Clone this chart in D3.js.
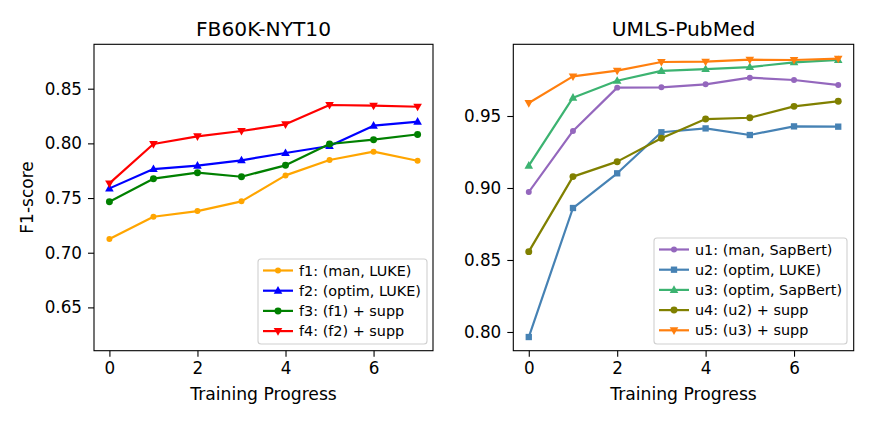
<!DOCTYPE html>
<html>
<head>
<meta charset="utf-8">
<script src="https://cdn.jsdelivr.net/npm/d3@7"></script>
<style>
  html, body { margin: 0; padding: 0; background: #fff; }
  svg { display: block; font-family: "DejaVu Sans", sans-serif; }
</style>
</head>
<body>
<svg id="chart" width="872" height="424"></svg>
<script>
// ——— données
const steps = [0, 1, 2, 3, 4, 5, 6, 7];
const xTicks = [0, 2, 4, 6];

// FB60K-NYT10
const f1 = [0.7125, 0.7329, 0.7381, 0.7470, 0.7707, 0.7848, 0.7924, 0.7841];
const f2 = [0.7588, 0.7765, 0.7796, 0.7845, 0.7912, 0.7976, 0.8162, 0.8198];
const f3 = [0.7466, 0.7677, 0.7732, 0.7695, 0.7799, 0.7994, 0.8034, 0.8082];
const f4 = [0.7634, 0.7994, 0.8064, 0.8113, 0.8174, 0.8351, 0.8345, 0.8335];
const leftTicks = [0.65, 0.70, 0.75, 0.80, 0.85];

// UMLS-PubMed
const u1 = [0.8972, 0.9396, 0.9697, 0.9699, 0.9720, 0.9766, 0.9750, 0.9715];
const u2 = [0.7965, 0.8861, 0.9102, 0.9387, 0.9414, 0.9368, 0.9428, 0.9426];
const u3 = [0.9155, 0.9627, 0.9745, 0.9813, 0.9826, 0.9840, 0.9873, 0.9889];
const u4 = [0.8558, 0.9079, 0.9183, 0.9345, 0.9479, 0.9488, 0.9567, 0.9602];
const u5 = [0.9590, 0.9775, 0.9815, 0.9875, 0.9877, 0.9891, 0.9889, 0.9898];
const rightTicks = [0.80, 0.85, 0.90, 0.95];

const panels = [
  {
    title: "FB60K-NYT10", ylabel: "F1-score",
    left: 94, right: 433, yDomain: [0.6104, 0.8906], yTicks: leftTicks,
    legend: { x: 258, y: 259, w: 169, h: 85 },
    series: [
      { name: "f1: (man, LUKE)",    values: f1, color: "orange",  marker: "point" },
      { name: "f2: (optim, LUKE)",  values: f2, color: "blue",    marker: "up" },
      { name: "f3: (f1) + supp",    values: f3, color: "green",   marker: "circle" },
      { name: "f4: (f2) + supp",    values: f4, color: "red",     marker: "down" }
    ]
  },
  {
    title: "UMLS-PubMed", ylabel: null,
    left: 513.3, right: 853.7, yDomain: [0.787, 0.9998], yTicks: rightTicks,
    legend: { x: 654, y: 238, w: 193, h: 106 },
    series: [
      { name: "u1: (man, SapBert)",   values: u1, color: "#9467bd", marker: "point" },
      { name: "u2: (optim, LUKE)",    values: u2, color: "#4682b4", marker: "square" },
      { name: "u3: (optim, SapBert)", values: u3, color: "#3cb371", marker: "up" },
      { name: "u4: (u2) + supp",      values: u4, color: "#808000", marker: "circle" },
      { name: "u5: (u3) + supp",      values: u5, color: "#ff7f0e", marker: "down" }
    ]
  }
];

const plotTop = 44.3, plotBottom = 350.7;
const svg = d3.select("#chart");

// ——— marqueurs
function markerPath(type) {
  switch (type) {
    case "point":  return d3.symbol(d3.symbolCircle, 28)();
    case "circle": return d3.symbol(d3.symbolCircle, 38)();
    case "square": return d3.symbol(d3.symbolSquare, 40)();
    case "up":     return "M0,-4.6L4.3,3L-4.3,3Z";
    case "down":   return "M0,4.6L4.3,-3L-4.3,-3Z";
  }
}

panels.forEach(p => {
  const x = d3.scaleLinear().domain([-0.35, 7.35]).range([p.left, p.right]);
  const y = d3.scaleLinear().domain(p.yDomain).range([plotBottom, plotTop]);
  const g = svg.append("g");

  // axes
  g.append("g")
    .attr("transform", `translate(0,${plotBottom})`)
    .call(d3.axisBottom(x).tickValues(xTicks).tickFormat(d3.format("d")).tickSize(6).tickPadding(5))
    .call(a => a.select(".domain").remove())
    .call(a => a.selectAll("line").attr("stroke", "#000").attr("stroke-width", 1.1))
    .call(a => a.selectAll("text").attr("font-size", 16.8).attr("fill", "#000")
      .attr("font-family", "DejaVu Sans"));

  g.append("g")
    .attr("transform", `translate(${p.left},0)`)
    .call(d3.axisLeft(y).tickValues(p.yTicks).tickFormat(d3.format(".2f")).tickSize(6).tickPadding(6))
    .call(a => a.select(".domain").remove())
    .call(a => a.selectAll("line").attr("stroke", "#000").attr("stroke-width", 1.1))
    .call(a => a.selectAll("text").attr("font-size", 16.8).attr("fill", "#000")
      .attr("font-family", "DejaVu Sans"));

  // séries
  const line = d3.line().x((d, i) => x(steps[i])).y(d => y(d));
  p.series.forEach(s => {
    g.append("path")
      .attr("d", line(s.values))
      .attr("fill", "none")
      .attr("stroke", s.color)
      .attr("stroke-width", 2.2)
      .attr("stroke-linejoin", "round")
      .attr("stroke-linecap", "square");
    g.selectAll(null)
      .data(s.values)
      .enter()
      .append("path")
      .attr("d", markerPath(s.marker))
      .attr("transform", (d, i) => `translate(${x(steps[i])},${y(d)})`)
      .attr("fill", s.color);
  });

  // cadre
  g.append("rect")
    .attr("x", p.left).attr("y", plotTop)
    .attr("width", p.right - p.left).attr("height", plotBottom - plotTop)
    .attr("fill", "none").attr("stroke", "#000").attr("stroke-width", 1.1);

  // titre
  g.append("text")
    .attr("x", (p.left + p.right) / 2).attr("y", 36)
    .attr("text-anchor", "middle").attr("font-size", 20.2)
    .text(p.title);

  g.append("text")
    .attr("x", (p.left + p.right) / 2).attr("y", 400)
    .attr("text-anchor", "middle").attr("font-size", 17.2)
    .text("Training Progress");

  if (p.ylabel) {
    g.append("text")
      .attr("transform", `translate(33,${(plotTop + plotBottom) / 2}) rotate(-90)`)
      .attr("text-anchor", "middle").attr("font-size", 17)
      .text(p.ylabel);
  }

  // légende
  const L = p.legend;
  const lg = g.append("g");
  lg.append("rect")
    .attr("x", L.x).attr("y", L.y).attr("width", L.w).attr("height", L.h)
    .attr("rx", 3).attr("fill", "rgba(255,255,255,0.8)")
    .attr("stroke", "#d0d0d0").attr("stroke-width", 1.1);
  p.series.forEach((s, i) => {
    const cy = L.y + 11.5 + i * 20.2;
    const row = lg.append("g");
    row.append("line")
      .attr("x1", L.x + 5).attr("x2", L.x + 35)
      .attr("y1", cy).attr("y2", cy)
      .attr("stroke", s.color).attr("stroke-width", 2.2);
    row.append("path")
      .attr("d", markerPath(s.marker))
      .attr("transform", `translate(${L.x + 20},${cy})`)
      .attr("fill", s.color);
    row.append("text")
      .attr("x", L.x + 41).attr("y", cy)
      .attr("dy", "0.36em")
      .attr("font-size", 14.4)
      .text(s.name);
  });
});
</script>
</body>
</html>
